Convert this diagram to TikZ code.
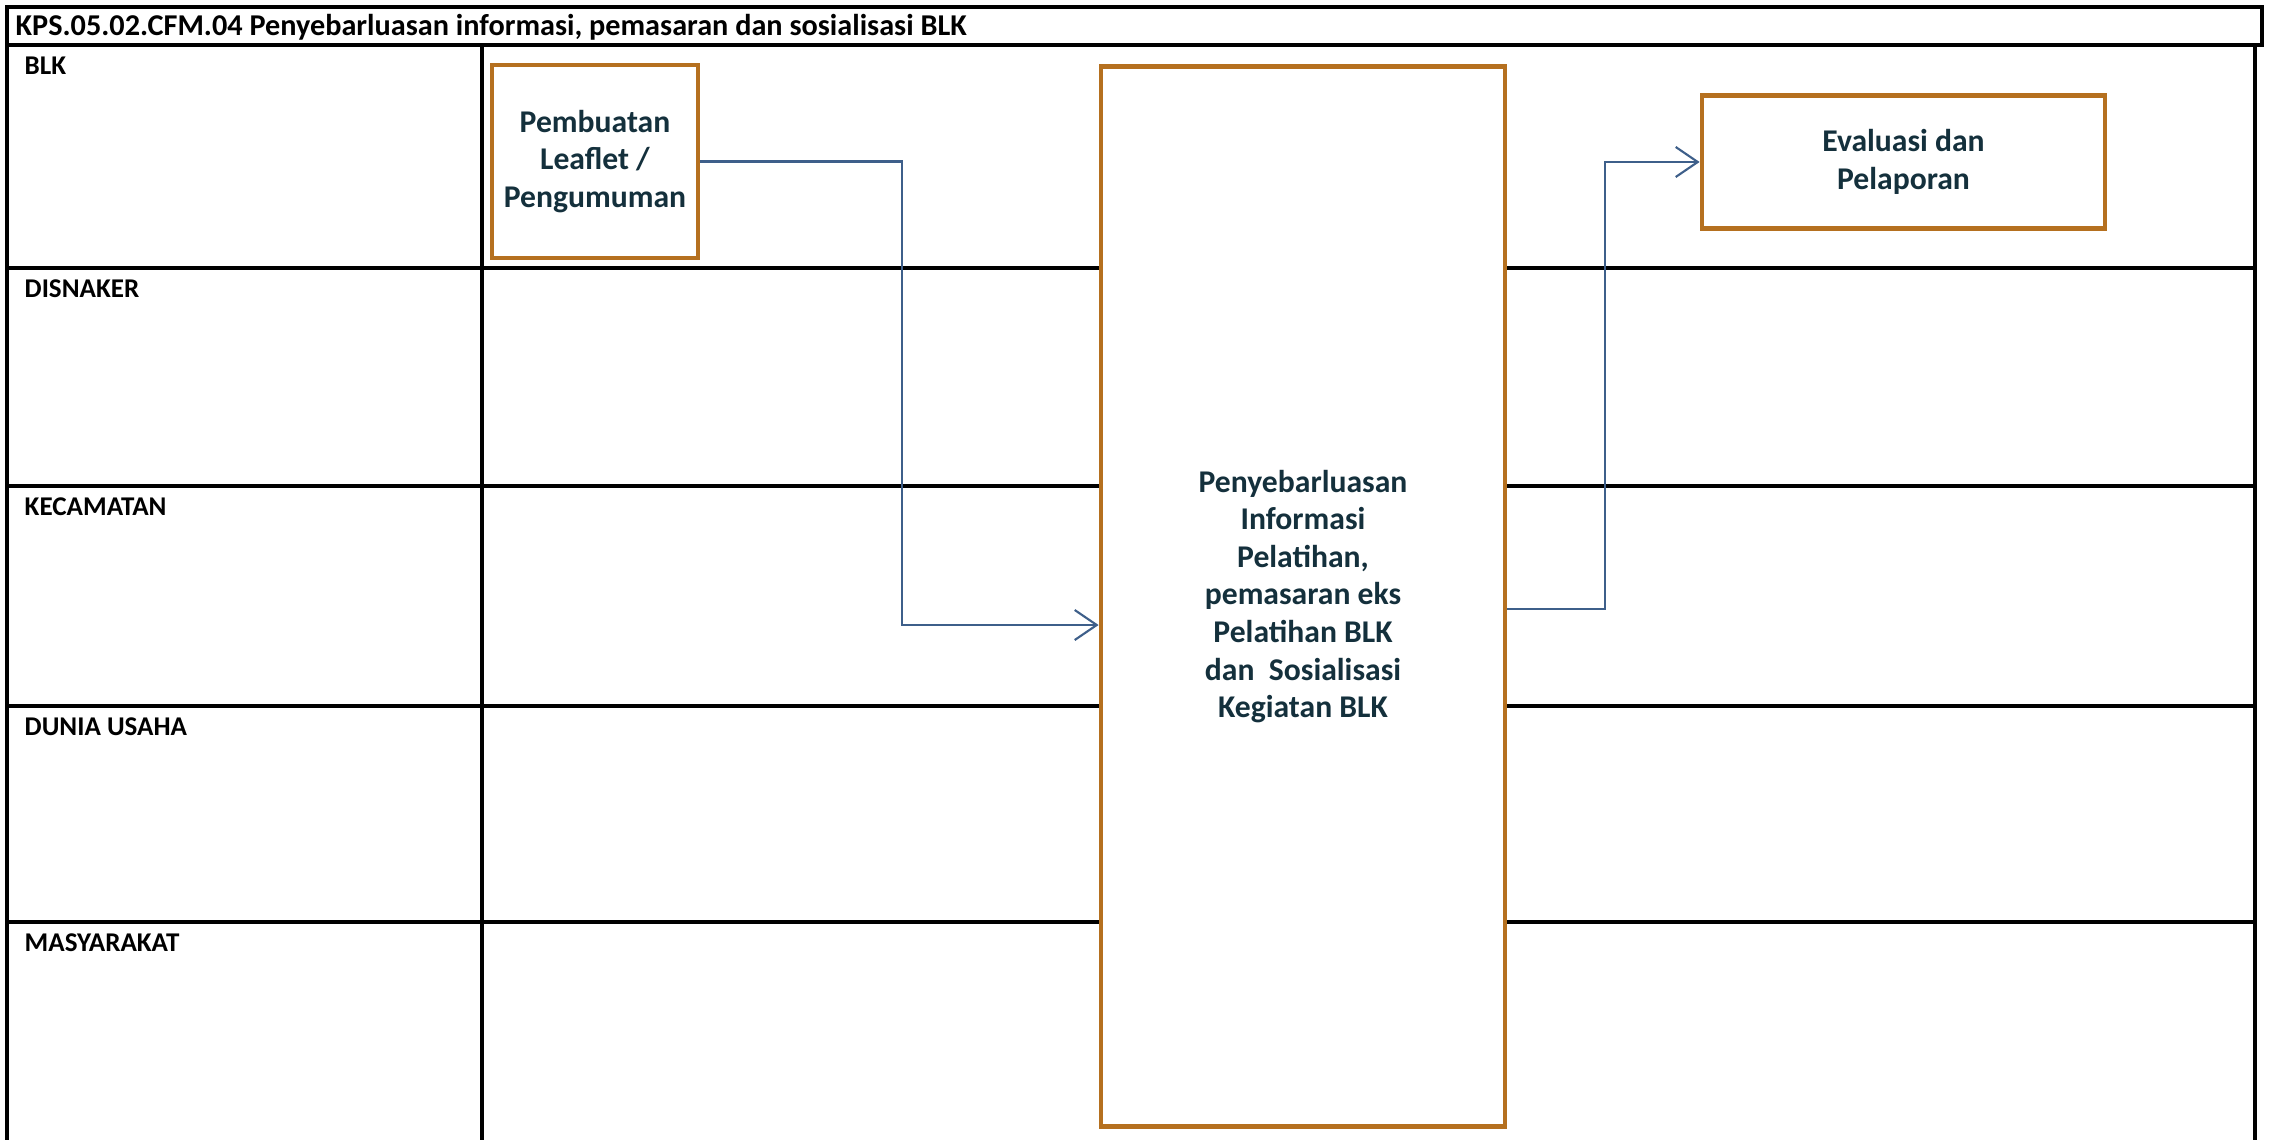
\documentclass[tikz,border=0pt]{standalone}
\usepackage{fontspec}
\setmainfont{Carlito}
\usepackage{tikz}
\usetikzlibrary{positioning,arrows.meta}

\definecolor{boxline}{HTML}{B5701F}
\definecolor{flowline}{HTML}{3E5F8A}
\definecolor{boxtext}{HTML}{14303C}

\begin{document}
\begin{tikzpicture}[
			x=0.01cm, y=-0.01cm,
			lane/.style={draw=black, line width=0.9pt},
			lanelabel/.style={anchor=north west, inner sep=0pt, font=\fontsize{7.7}{8}\selectfont\bfseries},
			task/.style={draw=boxline, line width=1.3pt, fill=white, rectangle, align=center, text=boxtext, font=\fontsize{9}{10.7}\selectfont\bfseries},
			arrow/.style={->, >={Straight Barb[length=2.2mm, width=3mm]}, draw=flowline, line width=0.6pt}
			]
			\useasboundingbox (0,0) rectangle (2269,1140);
			% Judul
			\draw[line width=1pt] (7,7) rectangle (2262,45);
			\node[anchor=west, inner sep=0pt, font=\fontsize{8.6}{10}\selectfont\bfseries] (judul) at (15,27) {KPS.05.02.CFM.04 Penyebarluasan informasi, pemasaran dan sosialisasi BLK};
			
			% Garis tabel
			\draw[lane] (7,45) -- (7,1140);
			\draw[lane] (482,45) -- (482,1140);
			\draw[lane] (2255,45) -- (2255,1140);
			\foreach \y in {268,486,706,922}
				\draw[lane] (7,\y) -- (2255,\y);
			
			% Nama lajur
			\node[lanelabel] (blk) at (24,56) {BLK};
			\node[lanelabel] (disnaker) at (24,279) {DISNAKER};
			\node[lanelabel] (kecamatan) at (24,497) {KECAMATAN};
			\node[lanelabel] (dunia) at (24,717) {DUNIA USAHA};
			\node[lanelabel] (masyarakat) at (24,933) {MASYARAKAT};
			
			% Kegiatan
			\node[task, minimum width=2cm, minimum height=1.93cm] (leaflet) at (595,161.5) {Pembuatan\\Leaflet /\\Pengumuman};
			\node[task, minimum width=4.04cm, minimum height=10.59cm] (info) at (1303,596.5) {Penyebarluasan\\Informasi\\Pelatihan,\\pemasaran eks\\Pelatihan BLK\\dan~ Sosialisasi\\Kegiatan BLK};
			\node[task, minimum width=4.03cm, minimum height=1.33cm] (evaluasi) at (1903.5,162) {Evaluasi dan\\Pelaporan};
			
			% Alur
			\draw[arrow] (leaflet.east) -- ++(202,0) |- ([yshift=-0.285cm]info.west);
			\draw[arrow] ([yshift=-0.125cm]info.east) -- ++(98,0) |- (evaluasi.west);
		\end{tikzpicture}
\end{document}
